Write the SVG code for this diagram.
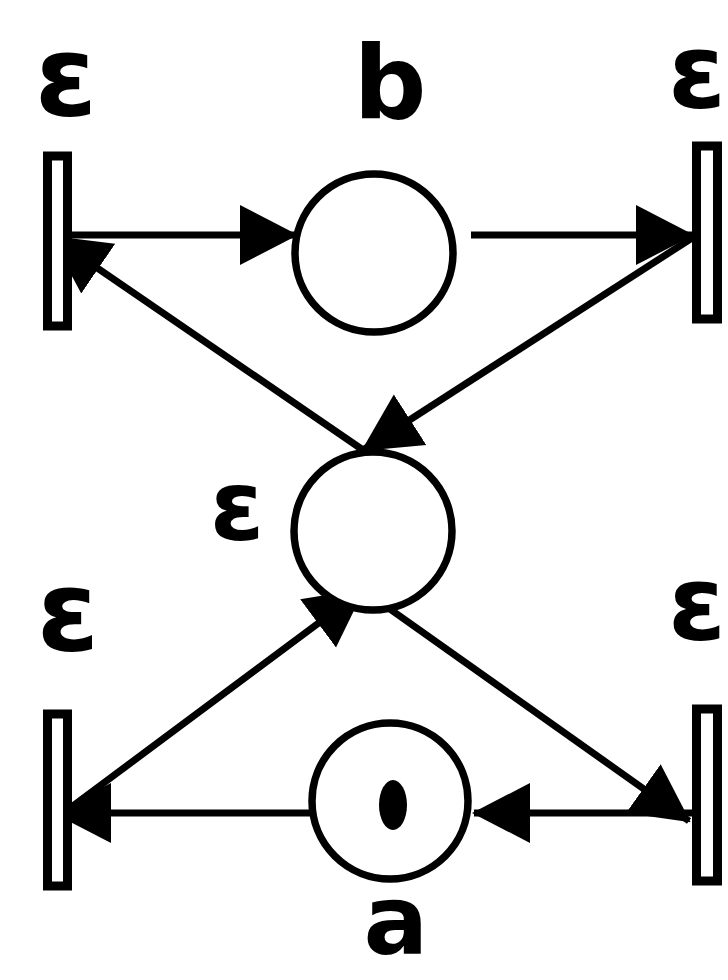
<svg xmlns="http://www.w3.org/2000/svg" width="728" height="980" viewBox="0 0 728 980">
<style>
.t{fill:#fff;stroke:#000;stroke-width:9}
.p{fill:#fff;stroke:#000;stroke-width:7.5}
.c{stroke:#000;stroke-width:7;fill:none;marker-end:url(#ah)}
.l{font-family:"DejaVu Sans","Liberation Sans",sans-serif;font-weight:bold;font-size:112px;fill:#000;text-anchor:middle}
</style>
<defs>
<marker id="ah" viewBox="0 -31 58 62" refX="56" refY="0" markerUnits="userSpaceOnUse" markerWidth="58" markerHeight="62" orient="auto">
<path d="M0,-30 L58,0 L0,30 Z" fill="#000"/>
</marker>
</defs>
<rect width="728" height="980" fill="#fff"/>
<g id="connectors">
<line class="c" x1="72" y1="235" x2="296" y2="235"/>
<line class="c" x1="471" y1="235" x2="692" y2="235"/>
<line class="c" x1="692" y1="238" x2="363" y2="450"/>
<line class="c" x1="363" y1="450" x2="52" y2="237"/>
<line class="c" x1="62" y1="814" x2="363" y2="590"/>
<line class="c" x1="363" y1="590" x2="689" y2="821"/>
<line class="c" x1="692" y1="813" x2="474" y2="813"/>
<line class="c" x1="310" y1="813" x2="55" y2="813"/>
</g>
<g id="t_tl"><rect class="t" x="47.5" y="156" width="20" height="170"/><text class="l" x="66" y="115">ε</text></g>
<g id="t_tr"><rect class="t" x="696.5" y="146" width="21" height="173"/><text class="l" x="697" y="108" style="font-size:104px">ε</text></g>
<g id="t_bl"><rect class="t" x="47.5" y="714" width="20" height="172"/><text class="l" x="68" y="650">ε</text></g>
<g id="t_br"><rect class="t" x="696.5" y="709" width="21" height="172"/><text class="l" x="697" y="640" style="font-size:104px">ε</text></g>
<g id="p_b"><circle class="p" cx="374" cy="253" r="79"/><text class="l" x="390" y="118" style="font-size:102px">b</text></g>
<g id="p_c"><circle class="p" cx="373" cy="531" r="79"/><text class="l" x="237" y="540" style="font-size:98px">ε</text></g>
<g id="p_a"><circle class="p" cx="390" cy="801" r="78"/><ellipse cx="393" cy="805" rx="14" ry="25" fill="#000"/><text class="l" x="396" y="954" style="font-size:96px">a</text></g>
</svg>
